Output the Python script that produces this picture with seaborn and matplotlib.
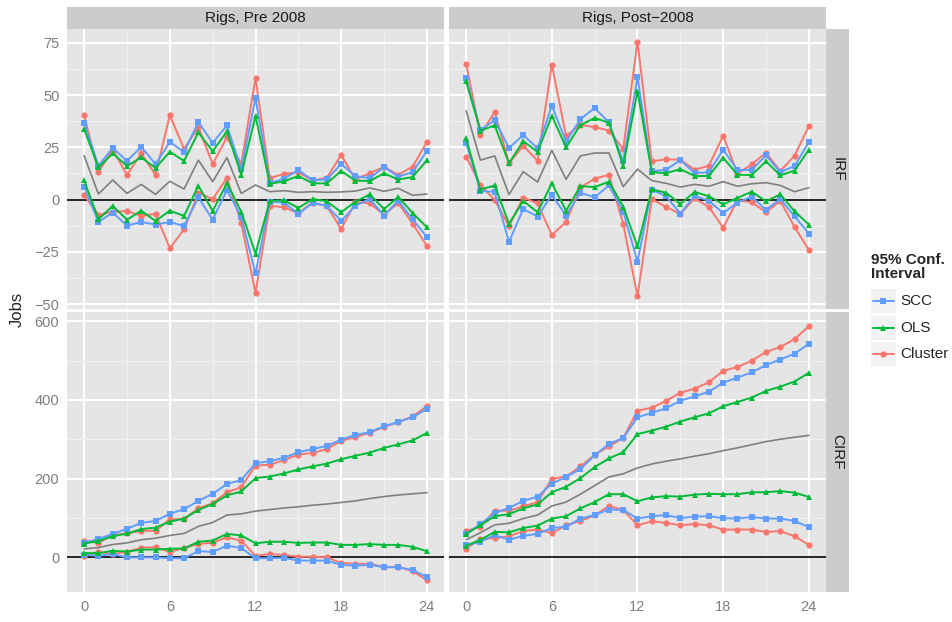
import pandas as pd
import seaborn as sns
import matplotlib.pyplot as plt
from matplotlib.lines import Line2D
from matplotlib.patches import Rectangle

# horizons (months)
horizon = list(range(25))

# IRF, pre 2008
pre_irf_est = [21.0, 2.7, 9.4, 3.0, 7.3, 2.5, 8.8, 5.1, 18.9, 8.6, 20.1, 3.0, 7.0, 3.8, 4.3, 3.5, 3.8, 3.5, 3.7, 4.1, 5.6, 4.0, 5.4, 2.1, 2.7]
pre_irf_scc_hi = [36.6, 16.2, 24.7, 18.5, 25.2, 17.0, 27.5, 22.8, 37.1, 27.1, 35.5, 14.5, 48.6, 8.0, 10.0, 14.2, 9.2, 9.7, 17.0, 11.3, 10.3, 15.6, 11.0, 13.2, 23.2]
pre_irf_scc_lo = [6.2, -10.7, -6.2, -12.4, -10.7, -11.9, -10.7, -12.6, 1.1, -9.6, 4.6, -8.3, -35.3, -1.1, -1.3, -7.0, -1.4, -3.0, -10.2, -2.9, 0.3, -7.6, -0.5, -9.4, -17.8]
pre_irf_ols_hi = [33.8, 15.4, 22.1, 16.1, 20.2, 15.1, 22.9, 18.5, 32.2, 23.1, 32.6, 11.9, 40.0, 7.5, 8.8, 11.3, 7.8, 7.8, 13.7, 9.1, 8.9, 12.6, 9.6, 10.8, 18.8]
pre_irf_ols_lo = [9.2, -9.4, -3.0, -9.6, -5.3, -10.2, -5.3, -7.8, 6.7, -5.4, 7.8, -5.7, -25.8, -0.6, -0.3, -4.0, 0.3, -0.8, -6.0, -1.0, 2.5, -4.5, 1.3, -6.4, -13.2]
pre_irf_cl_hi = [40.4, 13.2, 23.9, 11.8, 22.1, 11.8, 40.4, 24.2, 34.7, 17.0, 29.8, 17.0, 58.1, 10.3, 12.3, 13.1, 9.1, 10.5, 21.3, 9.6, 12.7, 15.6, 11.9, 15.8, 27.5]
pre_irf_cl_lo = [2.2, -7.3, -5.9, -5.4, -7.8, -6.8, -23.2, -14.2, 3.2, 0.3, 10.3, -11.0, -44.6, -2.9, -3.7, -6.4, -1.4, -3.2, -14.0, -1.1, -1.8, -7.2, -1.6, -11.5, -22.1]

# IRF, post 2008
post_irf_est = [42.5, 18.9, 20.9, 2.4, 13.4, 8.4, 23.6, 9.7, 20.9, 22.3, 22.3, 6.2, 14.6, 9.1, 7.8, 6.0, 7.3, 6.4, 8.6, 6.4, 7.6, 8.1, 6.8, 3.8, 5.7]
post_irf_scc_hi = [58.1, 33.3, 38.0, 24.7, 30.9, 24.5, 44.9, 27.7, 38.5, 43.8, 36.9, 18.3, 58.6, 13.5, 14.3, 18.9, 12.7, 13.1, 23.9, 14.2, 14.2, 21.2, 13.1, 16.1, 27.5]
post_irf_scc_lo = [27.1, 4.1, 3.7, -20.2, -4.5, -8.1, 2.2, -7.6, 3.3, 1.1, 6.8, -5.7, -29.6, 4.8, 1.6, -6.7, 1.9, -0.6, -6.4, -1.4, 1.4, -4.9, 0.3, -8.0, -16.2]
post_irf_ols_hi = [56.5, 33.0, 35.5, 17.4, 28.0, 22.8, 40.1, 25.0, 35.7, 39.0, 36.8, 16.1, 51.9, 13.2, 12.6, 14.6, 11.3, 11.3, 20.1, 11.9, 11.8, 18.3, 11.6, 13.9, 23.9]
post_irf_ols_lo = [29.3, 4.8, 6.8, -11.6, -0.6, -6.0, 7.8, -5.3, 6.5, 6.0, 8.6, -3.3, -22.4, 4.9, 3.3, -2.1, 3.7, 1.6, -2.2, 0.8, 3.8, -0.8, 2.5, -5.6, -11.9]
post_irf_cl_hi = [65.0, 31.0, 42.0, 17.4, 25.8, 18.6, 64.6, 30.4, 35.8, 34.7, 33.0, 24.2, 75.5, 18.3, 19.3, 19.1, 14.3, 16.2, 30.6, 12.4, 16.9, 22.4, 13.7, 21.0, 35.2]
post_irf_cl_lo = [20.5, 7.0, -0.2, -12.7, 1.0, -1.8, -16.9, -10.7, 5.9, 10.0, 11.9, -11.6, -46.2, 0.3, -3.5, -6.8, 0.6, -3.5, -13.4, -0.3, -1.3, -6.0, -0.6, -13.1, -24.0]

# CIRF, pre 2008
pre_cirf_est = [21, 24, 32, 36, 44, 48, 55, 60, 78, 88, 107, 110, 117, 121, 125, 128, 132, 135, 139, 143, 149, 154, 158, 161, 164]
pre_cirf_scc_hi = [36, 46, 59, 72, 87, 92, 110, 122, 143, 161, 186, 196, 239, 244, 253, 267, 275, 283, 299, 311, 318, 333, 344, 356, 377]
pre_cirf_scc_lo = [6, 3, 8, -1, -1, -1, -3, -3, 15, 13, 29, 23, -3, -3, -2, -9, -9, -9, -20, -22, -20, -26, -26, -33, -51]
pre_cirf_ols_hi = [34, 41, 53, 60, 71, 75, 90, 98, 120, 135, 157, 167, 201, 205, 213, 223, 231, 238, 249, 258, 266, 278, 287, 297, 316]
pre_cirf_ols_lo = [10, 10, 16, 14, 19, 19, 21, 22, 39, 42, 59, 55, 35, 39, 39, 36, 37, 37, 31, 31, 33, 31, 31, 26, 15]
pre_cirf_cl_hi = [42, 36, 56, 60, 67, 67, 96, 97, 124, 137, 165, 178, 233, 235, 247, 261, 265, 275, 296, 305, 317, 331, 344, 358, 384]
pre_cirf_cl_lo = [3, 13, 8, 13, 24, 25, 13, 23, 33, 37, 50, 42, 3, 8, 5, 1, 1, -1, -15, -17, -17, -25, -25, -36, -59]

# CIRF, post 2008
post_cirf_est = [44, 62, 82, 86, 98, 107, 130, 140, 160, 182, 204, 212, 227, 237, 244, 250, 257, 263, 271, 278, 286, 294, 300, 305, 310]
post_cirf_scc_hi = [59, 84, 112, 125, 143, 154, 187, 204, 224, 259, 288, 303, 356, 367, 379, 398, 409, 421, 444, 457, 470, 489, 503, 518, 543]
post_cirf_scc_lo = [30, 39, 56, 44, 54, 59, 74, 77, 98, 107, 121, 120, 98, 104, 107, 99, 103, 104, 99, 98, 102, 98, 98, 92, 76]
post_cirf_ols_hi = [59, 81, 104, 109, 124, 134, 165, 179, 201, 229, 251, 267, 313, 322, 332, 345, 356, 366, 384, 395, 406, 423, 434, 447, 469]
post_cirf_ols_lo = [29, 44, 64, 63, 74, 80, 98, 104, 124, 140, 160, 160, 142, 152, 155, 154, 159, 161, 160, 160, 165, 165, 168, 164, 153]
post_cirf_cl_hi = [67, 77, 118, 118, 129, 140, 199, 205, 231, 260, 282, 303, 373, 380, 398, 418, 429, 445, 474, 484, 500, 522, 535, 555, 588]
post_cirf_cl_lo = [21, 46, 48, 53, 66, 70, 61, 81, 92, 106, 130, 120, 81, 91, 87, 81, 84, 81, 70, 70, 70, 64, 66, 53, 31]

col_labels = ["Rigs, Pre 2008", "Rigs, Post\u22122008"]
row_labels = ["IRF", "CIRF"]
methods = ["SCC", "OLS", "Cluster"]
colors = {"SCC": "#619CFF", "OLS": "#00BA38", "Cluster": "#F8766D"}
markers = {"SCC": "s", "OLS": "^", "Cluster": "o"}

panels = {
    (0, 0): (pre_irf_est, {"SCC": (pre_irf_scc_lo, pre_irf_scc_hi), "OLS": (pre_irf_ols_lo, pre_irf_ols_hi), "Cluster": (pre_irf_cl_lo, pre_irf_cl_hi)}),
    (0, 1): (post_irf_est, {"SCC": (post_irf_scc_lo, post_irf_scc_hi), "OLS": (post_irf_ols_lo, post_irf_ols_hi), "Cluster": (post_irf_cl_lo, post_irf_cl_hi)}),
    (1, 0): (pre_cirf_est, {"SCC": (pre_cirf_scc_lo, pre_cirf_scc_hi), "OLS": (pre_cirf_ols_lo, pre_cirf_ols_hi), "Cluster": (pre_cirf_cl_lo, pre_cirf_cl_hi)}),
    (1, 1): (post_cirf_est, {"SCC": (post_cirf_scc_lo, post_cirf_scc_hi), "OLS": (post_cirf_ols_lo, post_cirf_ols_hi), "Cluster": (post_cirf_cl_lo, post_cirf_cl_hi)}),
}


def long_frame(bands):
    rows = []
    for method, (lo, hi) in bands.items():
        for bound, vals in (("lo", lo), ("hi", hi)):
            for h, v in zip(horizon, vals):
                rows.append((method, bound, h, v))
    return pd.DataFrame(rows, columns=["method", "bound", "horizon", "value"])


sns.set_style("white")
plt.rcParams["font.family"] = ["Liberation Sans", "DejaVu Sans"]

W, H = 953, 622
fig = plt.figure(figsize=(W / 100, H / 100), dpi=100)


def box(x0, y0, x1, y1):
    # pixel box (top-left origin) -> figure fraction rect
    return [x0 / W, 1 - y1 / H, (x1 - x0) / W, (y1 - y0) / H]


col_x = [(67, 444), (449, 826)]
row_y = [(29, 309), (312, 592)]
ylims = [(-52.3, 81.6), (-89, 624)]
yticks = [[-50, -25, 0, 25, 50, 75], [0, 200, 400, 600]]
yminor = [[-37.5, -12.5, 12.5, 37.5, 62.5], [100, 300, 500]]
gray_txt = "#7F7F7F"

for (r, c), (est, bands) in panels.items():
    x0, x1 = col_x[c]
    y0, y1 = row_y[r]
    ax = fig.add_axes(box(x0, y0, x1, y1))
    ax.set_facecolor("#E5E5E5")
    for s in ax.spines.values():
        s.set_visible(False)
    ax.set_xlim(-1.2, 25.2)
    ax.set_ylim(*ylims[r])
    ax.set_xticks([0, 6, 12, 18, 24])
    ax.set_xticks([3, 9, 15, 21], minor=True)
    ax.set_yticks(yticks[r])
    ax.set_yticks(yminor[r], minor=True)
    ax.grid(True, which="major", color="white", lw=1.4)
    ax.grid(True, which="minor", color="#F2F2F2", lw=0.7)
    ax.set_axisbelow(True)
    ax.tick_params(which="minor", length=0)
    ax.tick_params(which="major", color=gray_txt, labelcolor=gray_txt,
                   length=3.5, width=0.8, labelsize=10.5, pad=2)
    if c == 1:
        ax.tick_params(axis="y", length=0, labelleft=False)
    if r == 0:
        ax.tick_params(axis="x", length=0, labelbottom=False)

    ax.axhline(0, color="black", lw=1.2, zorder=2)
    sns.lineplot(x=horizon, y=est, color="#7F7F7F", lw=1.2, ax=ax, zorder=3)
    df = long_frame(bands)
    sns.lineplot(data=df, x="horizon", y="value", hue="method", style="method",
                 units="bound", estimator=None, hue_order=["Cluster", "SCC", "OLS"],
                 palette=colors, markers=markers, dashes=False, legend=False,
                 lw=1.4, markersize=4.5, markeredgewidth=0, ax=ax, zorder=4)
    ax.set_xlabel("")
    ax.set_ylabel("")

# strips
for c, (x0, x1) in enumerate(col_x):
    sax = fig.add_axes(box(x0, 7, x1, 29))
    sax.set_facecolor("#CCCCCC")
    sax.set_xticks([]); sax.set_yticks([])
    for s in sax.spines.values():
        s.set_visible(False)
    sax.text(0.5, 0.5, col_labels[c], ha="center", va="center", fontsize=11, color="#1A1A1A")

for r, (y0, y1) in enumerate(row_y):
    sax = fig.add_axes(box(826, y0, 849, y1))
    sax.set_facecolor("#CCCCCC")
    sax.set_xticks([]); sax.set_yticks([])
    for s in sax.spines.values():
        s.set_visible(False)
    sax.text(0.5, 0.5, row_labels[r], ha="center", va="center", rotation=-90,
             fontsize=11, color="#1A1A1A")

fig.text(17 / W, 1 - 309 / H, "Jobs", rotation=90, ha="center", va="center", fontsize=12)

# legend
leg = fig.add_axes([0, 0, 1, 1], facecolor="none")
leg.set_axis_off()
leg.set_xlim(0, W)
leg.set_ylim(H, 0)
leg.text(871, 267, "95% Conf.\nInterval", ha="left", va="center", fontsize=11,
         fontweight="bold", linespacing=1.05)
for i, m in enumerate(methods):
    yc = 301 + i * 26.5
    leg.add_patch(Rectangle((871, yc - 12), 25, 24, facecolor="#F2F2F2", edgecolor="none"))
    leg.add_line(Line2D([873, 894], [yc, yc], color=colors[m], lw=1.4))
    leg.add_line(Line2D([883.5], [yc], color=colors[m], marker=markers[m], markersize=4.5,
                        markeredgewidth=0))
    leg.text(900, yc, m, ha="left", va="center", fontsize=11)

fig.savefig("out.png", dpi=100)
